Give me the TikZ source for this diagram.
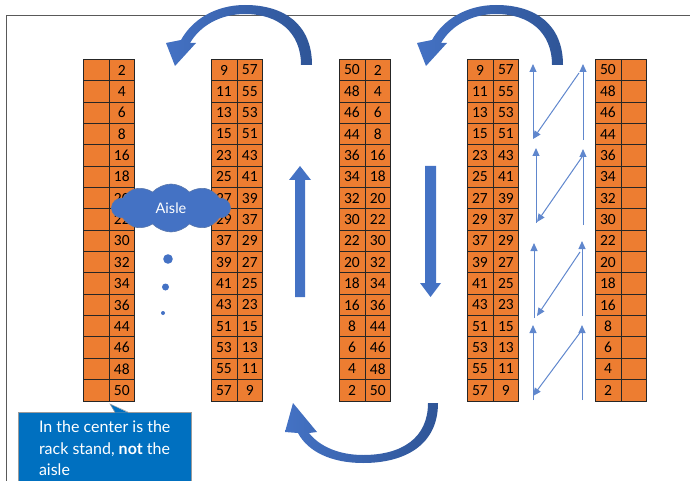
\documentclass[tikz,border=0pt]{standalone}
\usepackage{fontspec}
\setmainfont{Carlito}
\newfontfamily\gill{Lato}
\usetikzlibrary{arrows.meta,shapes.symbols}
\definecolor{orng}{HTML}{ED7D31}
\definecolor{blu}{HTML}{4472C4}
\definecolor{bludark}{HTML}{2F5597}
\definecolor{callblue}{HTML}{0070C0}
\definecolor{frameg}{HTML}{595959}
\begin{document}
\begin{tikzpicture}[x=1pt,y=-1pt,
  cell/.style={draw=black!85, line width=0.8pt, fill=orng, minimum width=25.9pt,
    minimum height=21.35pt, inner sep=0pt, outer sep=0pt,
    font=\fontsize{15.5}{17}\selectfont, text=black},
  thinarrow/.style={draw=blu!85, line width=1pt, -{Triangle[length=8pt,width=7pt]}},
  bigarrow/.style={fill=blu},
  curvearrow/.style={left color=blu, middle color=blu, right color=bludark},
  dot/.style={circle, fill=blu, inner sep=0pt, outer sep=0pt}]
\useasboundingbox (0,0) rectangle (690,481);
\draw[frameg, line width=1pt] (6,16) rectangle (700,495);

% column 1
\foreach \v [count=\i] in {2,4,6,8,16,18,20,22,30,32,34,36,44,46,48,50} {
  \node[cell] (ca\i) at (95.95,{48.625+21.35*\i}) {};
  \node[cell] (cb\i) at (121.85,{48.625+21.35*\i}) {\v};
}
% column 2 and 4
\foreach \a/\b [count=\i] in {9/57,11/55,13/53,15/51,23/43,25/41,27/39,29/37,37/29,39/27,41/25,43/23,51/15,53/13,55/11,57/9} {
  \node[cell] (da\i) at (223.95,{48.625+21.35*\i}) {\a};
  \node[cell] (db\i) at (249.85,{48.625+21.35*\i}) {\b};
  \node[cell] (fa\i) at (479.95,{48.625+21.35*\i}) {\a};
  \node[cell] (fb\i) at (505.85,{48.625+21.35*\i}) {\b};
}
% column 3 and 5
\foreach \a/\b [count=\i] in {50/2,48/4,46/6,44/8,36/16,34/18,32/20,30/22,22/30,20/32,18/34,16/36,8/44,6/46,4/48,2/50} {
  \node[cell] (ea\i) at (351.95,{48.625+21.35*\i}) {\a};
  \node[cell] (eb\i) at (377.85,{48.625+21.35*\i}) {\b};
  \node[cell] (ga\i) at (607.95,{48.625+21.35*\i}) {\a};
  \node[cell] (gb\i) at (633.85,{48.625+21.35*\i}) {};
}

% aisle cloud and dots
\node[cloud, cloud puffs=10, cloud puff arc=95, aspect=2.4, fill=blu,
  draw=bludark!80, line width=0.6pt, minimum width=118pt, minimum height=48pt,
  inner sep=0pt, text=white, font=\gill\fontsize{14.5}{16}\selectfont] (aisle) at (171,208) {Aisle};
\node[dot, minimum size=9.6pt] (dot1) at (168,259) {};
\node[dot, minimum size=7pt] (dot2) at (165.5,287) {};
\node[dot, minimum size=4pt] (dot3) at (163,313) {};

% straight block arrows
\fill[bigarrow] (295,297) -- (295,180) -- (289,180) -- (300,166) -- (311,180) -- (305,180) -- (305,297) -- cycle;
\fill[bigarrow] (425,166) -- (436,166) -- (436,283) -- (441,283) -- (430.5,297) -- (420,283) -- (425,283) -- cycle;

% curved arrows, top
\foreach \s in {0,251} {
\begin{scope}[xshift=\s pt]
\shade[curvearrow] (312,65) .. controls (312,25) and (285,5) .. (245,5)
  .. controls (215,5) and (192,20) .. (181,40) -- (166,43) -- (175,66) -- (196,43) -- (190,43)
  .. controls (200,26) and (220,14) .. (245,14) .. controls (278,14) and (301,32) .. (301,65) -- cycle;
\end{scope}
}
% curved arrow, bottom
\shade[curvearrow] (438,403) .. controls (438,445) and (405,463) .. (363,463)
  .. controls (332,463) and (308,452) .. (298,433) -- (285,432) -- (293,403) -- (317,432) -- (309,433)
  .. controls (320,447) and (340,455) .. (363,455) .. controls (402,455) and (428,438) .. (428,403) -- cycle;

% thin zigzag arrows
\coordinate (L1b) at (533,138); \coordinate (L1t) at (533,64);
\coordinate (R1b) at (583,140); \coordinate (R1t) at (583,64);
\coordinate (D1s) at (579,73);  \coordinate (D1e) at (533,139);
\coordinate (L2b) at (536,223); \coordinate (L2t) at (536,148);
\coordinate (R2b) at (583,225); \coordinate (R2t) at (583,149);
\coordinate (D2s) at (582,157); \coordinate (D2e) at (537,222);
\coordinate (L3b) at (534,318); \coordinate (L3t) at (534,243);
\coordinate (R3b) at (582,316); \coordinate (R3t) at (582,241);
\coordinate (D3s) at (580,252); \coordinate (D3e) at (537,316);
\coordinate (L4b) at (533,400); \coordinate (L4t) at (533,325);
\coordinate (R4b) at (582,400); \coordinate (R4t) at (582,325);
\coordinate (D4s) at (582,330); \coordinate (D4e) at (533,396);
\foreach \g in {1,2,3,4} {
  \draw[thinarrow] (L\g b) -- (L\g t);
  \draw[thinarrow] (R\g b) -- (R\g t);
  \draw[thinarrow] (D\g s) -- (D\g e);
}

% callout
\node[fill=callblue, draw=frameg!60, anchor=north west, minimum width=173pt,
  minimum height=72pt, align=left, text=white, inner sep=0pt,
  font=\gill\fontsize{16}{21.5}\selectfont] (callout) at (18,412)
  {In the center is the\\rack stand, \textbf{not} the\\aisle};
\fill[callblue] (110,404) -- (115,412.6) -- (128,412.6) -- cycle;
\draw[frameg!60, line width=0.5pt] (115,412) -- (110,404) -- (128,412);
\end{tikzpicture}
\end{document}
